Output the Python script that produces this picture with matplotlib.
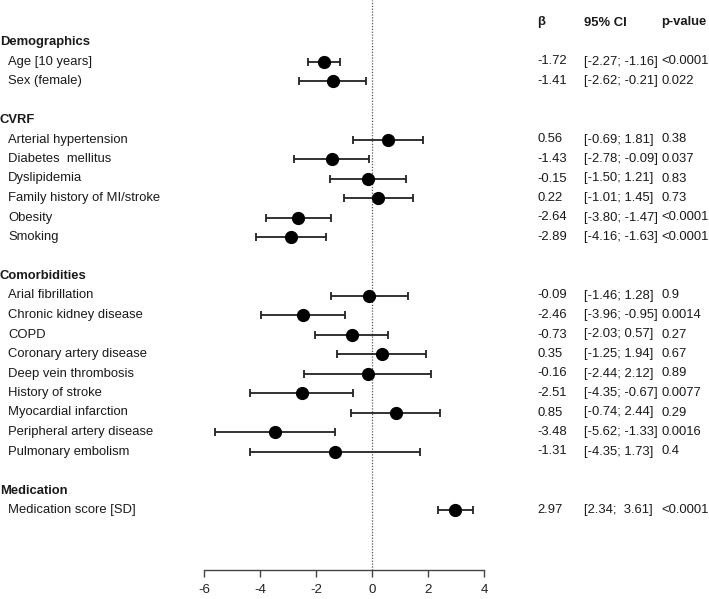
import numpy as np
import matplotlib
matplotlib.use('Agg')
import matplotlib.pyplot as plt
import matplotlib.transforms as mtransforms

plt.rcParams['font.family'] = ['Liberation Sans', 'DejaVu Sans']

# rows of the forest plot, grouped
groups = ['Demographics', 'CVRF', 'Comorbidities', 'Medication']
labels = [
    ['Age [10 years]', 'Sex (female)'],
    ['Arterial hypertension', 'Diabetes  mellitus', 'Dyslipidemia',
     'Family history of MI/stroke', 'Obesity', 'Smoking'],
    ['Arial fibrillation', 'Chronic kidney disease', 'COPD',
     'Coronary artery disease', 'Deep vein thrombosis', 'History of stroke',
     'Myocardial infarction', 'Peripheral artery disease', 'Pulmonary embolism'],
    ['Medication score [SD]'],
]
beta = [
    [-1.72, -1.41],
    [0.56, -1.43, -0.15, 0.22, -2.64, -2.89],
    [-0.09, -2.46, -0.73, 0.35, -0.16, -2.51, 0.85, -3.48, -1.31],
    [2.97],
]
lower = [
    [-2.27, -2.62],
    [-0.69, -2.78, -1.50, -1.01, -3.80, -4.16],
    [-1.46, -3.96, -2.03, -1.25, -2.44, -4.35, -0.74, -5.62, -4.35],
    [2.34],
]
upper = [
    [-1.16, -0.21],
    [1.81, -0.09, 1.21, 1.45, -1.47, -1.63],
    [1.28, -0.95, 0.57, 1.94, 2.12, -0.67, 2.44, -1.33, 1.73],
    [3.61],
]
pvals = [
    ['<0.0001', '0.022'],
    ['0.38', '0.037', '0.83', '0.73', '<0.0001', '<0.0001'],
    ['0.9', '0.0014', '0.27', '0.67', '0.89', '0.0077', '0.29', '0.0016', '0.4'],
    ['<0.0001'],
]
xticks = [-6, -4, -2, 0, 2, 4]

W, H = 709, 599
fig = plt.figure(figsize=(W / 100, H / 100), dpi=100)

# axes placed in pixels: x from -6 (204px) to 4 (484px), bottom axis at 570px
ax_left, ax_right, ax_bottom = 204, 484, 570
ax = fig.add_axes([ax_left / W, (H - ax_bottom) / H, (ax_right - ax_left) / W, ax_bottom / H])
ax.set_xlim(-6, 4)
row0_px, step = 42, 19.5
ax.set_ylim(1 + (ax_bottom - row0_px) / step, 1 - row0_px / step)

for s in ['top', 'right', 'left']:
    ax.spines[s].set_visible(False)
ax.spines['bottom'].set_color('#444444')
ax.spines['bottom'].set_linewidth(1.0)
ax.set_yticks([])
ax.set_xticks(xticks)
ax.set_xticklabels([str(t) for t in xticks])
ax.tick_params(axis='x', direction='out', length=5, width=1.0, color='#444444',
               labelsize=9.6, labelcolor='#222222', pad=5)
ax.axvline(0, color='#555555', lw=0.9, ls=(0, (1, 1.3)))

fs = 9.4
tcol = '#1a1a1a'
trans = mtransforms.blended_transform_factory(fig.transFigure, ax.transData)

def px(x):
    return x / W

# column headers
ax.text(px(537), 0, 'β', transform=trans, fontsize=fs, fontweight='bold', va='center', color=tcol)
ax.text(px(584), 0, '95% CI', transform=trans, fontsize=fs, fontweight='bold', va='center', color=tcol)
ax.text(px(661), 0, 'p-value', transform=trans, fontsize=fs, fontweight='bold', va='center', color=tcol)

row = 1
for g, name in enumerate(groups):
    ax.text(px(0), row, name, transform=trans, fontsize=fs, fontweight='bold', va='center', color=tcol)
    row += 1
    for i, lab in enumerate(labels[g]):
        b, lo, hi = beta[g][i], lower[g][i], upper[g][i]
        ax.errorbar(b, row, xerr=[[b - lo], [hi - b]], fmt='o', color='black',
                    ecolor='#222222', elinewidth=1.3, capsize=3, capthick=1.3,
                    markersize=8.5, zorder=3)
        ax.text(px(8), row, lab, transform=trans, fontsize=fs, va='center', color=tcol)
        ax.text(px(537), row, f'{b:.2f}', transform=trans, fontsize=fs, va='center', color=tcol)
        gap = '  ' if lo > 0 else ' '
        ax.text(px(584), row, f'[{lo:.2f};{gap}{hi:.2f}]', transform=trans, fontsize=fs,
                va='center', color=tcol)
        ax.text(px(661), row, pvals[g][i], transform=trans, fontsize=fs, va='center', color=tcol)
        row += 1
    row += 1

fig.savefig('out.png', dpi=100)
